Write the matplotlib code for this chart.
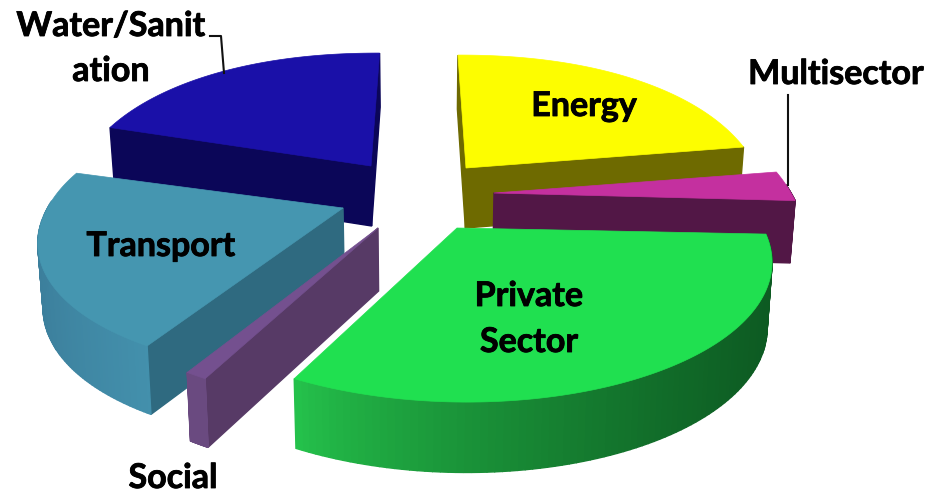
#!/usr/bin/env python3
import matplotlib
matplotlib.use("Agg")
import matplotlib.pyplot as plt
import numpy as np
from matplotlib.patches import Polygon
from matplotlib import patheffects

plt.rcParams["font.family"] = ["Lato", "DejaVu Sans"]

sectors = ["Energy", "Multisector", "Private Sector", "Social", "Transport", "Water/Sanitation"]
shares = [22.8, 2.9, 31.8, 1.0, 20.9, 20.6]

# drawing setup for each slice, same order as sectors
apex = [(466, 168), (494, 193), (457, 228), (378, 228), (343, 208), (371, 166)]
scale_x = [0.97, 0.99, 1.02, 0.97, 0.985, 0.97]
scale_y = [1.0, 1.0, 1.0, 1.0, 0.95, 1.0]
square = [0.93, 0.93, 1.0, 1.0, 0.97, 0.93]
skew = [0.0, 0.0, 0.0, 0.0, 0.07, 0.0]
thickness = [60, 62, 64, 63, 63, 60]
top_colors = ["#fdfd00", "#c4309f", "#20e050", "#74508f", "#4596b0", "#1a10a8"]
cut_colors = ["#6e6a00", "#521746", "#178a3a", "#573a66", "#2f6a80", "#0b0658"]
arc_left = ["#6e6a00", "#521746", "#25c44c", "#6a4a80", "#3c7f9c", "#0b0658"]
arc_right = ["#6e6a00", "#521746", "#0d5a22", "#6a4a80", "#4390ac", "#0b0658"]
draw_order = [5, 0, 1, 4, 3, 2]

RX = 300.0
RY = 137.0
PERSP = 0.213
CX = 420.0
CONVERGE = 0.014


def project(theta, i):
    ax0, ay0 = apex[i]
    sin_t, cos_t = np.sin(theta), np.cos(theta)
    x_g = np.sign(sin_t) * np.abs(sin_t) ** square[i]
    y_g = np.sign(cos_t) * np.abs(cos_t) ** square[i]
    depth = 1.0 / (1.0 + PERSP * y_g)
    dy = -scale_y[i] * RY * y_g * depth
    x = ax0 + scale_x[i] * RX * x_g * depth + (ax0 - CX) * (depth - 1.0) + skew[i] * dy
    return x, ay0 + dy, y_g


def mix(c1, c2, t):
    a = np.array(matplotlib.colors.to_rgb(c1))
    b = np.array(matplotlib.colors.to_rgb(c2))
    return tuple(a + (b - a) * t)


def drop(p, h):
    return (p[0] + (CX - p[0]) * CONVERGE, p[1] + h)


def quad(ax, p1, p2, h1, h2, color):
    pts = [p1, p2, drop(p2, h2), drop(p1, h1)]
    ax.add_patch(Polygon(pts, closed=True, facecolor=color, edgecolor=color, linewidth=1.0))


def draw_slice(ax, i, start, end):
    base = thickness[i]
    centre = apex[i]
    thetas = np.linspace(start, end, 100)
    xs, ys, yg = project(thetas, i)
    hs = base * (1.0 - 0.1 * yg)

    # straight cut faces that look toward the viewer
    if np.cos(start - np.pi / 2) < 0.01:
        quad(ax, centre, (xs[0], ys[0]), base, hs[0], cut_colors[i])
    if np.cos(end + np.pi / 2) < 0.01:
        quad(ax, centre, (xs[-1], ys[-1]), base, hs[-1], cut_colors[i])

    # outer rim, shaded left to right
    x_lo, x_hi = xs.min(), xs.max()
    for j in range(len(thetas) - 1):
        mid = 0.5 * (thetas[j] + thetas[j + 1])
        if np.cos(mid) < 0.05:
            t = (0.5 * (xs[j] + xs[j + 1]) - x_lo) / max(x_hi - x_lo, 1.0)
            quad(ax, (xs[j], ys[j]), (xs[j + 1], ys[j + 1]), hs[j], hs[j + 1],
                 mix(arc_left[i], arc_right[i], t ** 0.75))

    top = [centre] + list(zip(xs, ys))
    ax.add_patch(Polygon(top, closed=True, facecolor=top_colors[i], edgecolor=top_colors[i], linewidth=0.5))


fig = plt.figure(figsize=(9.43, 4.95), dpi=100)
ax = fig.add_axes([0, 0, 1, 1])
ax.set_xlim(0, 943)
ax.set_ylim(495, 0)
ax.axis("off")

edges = np.concatenate([[0.0], np.cumsum(shares)]) / np.sum(shares) * 2 * np.pi
for i in draw_order:
    draw_slice(ax, i, edges[i], edges[i + 1])

# leader lines
ax.plot([210, 221, 224], [36, 36, 73], color="#111111", lw=1.5)
ax.plot([788, 788], [95, 185], color="#111111", lw=1.5)

label_kw = dict(ha="center", va="center", fontsize=24.5, fontweight="bold", color="black",
                path_effects=[patheffects.withStroke(linewidth=0.6, foreground="black")])
ax.text(111, 26, "Water/Sanit", **label_kw)
ax.text(111, 71, "ation", **label_kw)
ax.text(584, 106, "Energy", **label_kw)
ax.text(836, 74, "Multisector", **label_kw)
ax.text(161, 246, "Transport", **label_kw)
ax.text(529, 296, "Private", **label_kw)
ax.text(529, 342, "Sector", **label_kw)
ax.text(173, 478, "Social", **label_kw)

fig.savefig("out.png", dpi=100)
